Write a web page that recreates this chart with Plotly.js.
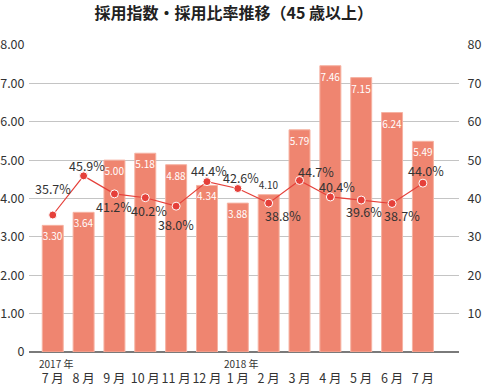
<!DOCTYPE html>
<html><head><meta charset="utf-8">
<script src="https://cdn.plot.ly/plotly-3.0.1.min.js"></script>
<style>html,body{margin:0;padding:0;background:#fff}#chart{width:482px;height:387px}</style>
</head><body><div id="chart"></div>
<script>
var months = ['7 月','8 月','9 月','10 月','11 月','12 月','1 月','2 月','3 月','4 月','5 月','6 月','7 月'];
var yearLabels = ['2017 年','2018 年'];
var yearIndex = [0, 6];
var hiringIndex = [3.30, 3.64, 5.00, 5.18, 4.88, 4.34, 3.88, 4.10, 5.79, 7.46, 7.15, 6.24, 5.49];
var hiringRatio = [35.7, 45.9, 41.2, 40.2, 38.0, 44.4, 42.6, 38.8, 44.7, 40.4, 39.6, 38.7, 44.0];
var leftTicks = [0,1,2,3,4,5,6,7,8];
var rightTicks = [10,20,30,40,50,60,70,80];

// label placement offsets (px)
var pctShift = [[0,-27],[3,-10],[0,13],[4,13],[0,18],[2,-11],[3,-11],[14,12],[16,-9],[7,-10],[3,11],[10,12],[3,-13]];

var idx = months.map(function(_, i){return i;});
var font = '"Noto Sans CJK JP", "Noto Sans", sans-serif';

var barPos = hiringIndex.map(function(v,i){ return i===7 ? 'outside' : 'inside'; });

var traces = [
  {type:'bar', x: idx, y: hiringIndex, yaxis:'y',
   marker:{color:'#ef8570', line:{color:'#f6b2a2', width:1}},
   width: 0.68,
   text: hiringIndex.map(function(v){return v.toFixed(2);}),
   textposition: barPos, insidetextanchor:'end', constraintext:'none', cliponaxis:false, textangle:0,
   insidetextfont:{family:font, size:10, color:'#ffffff'},
   outsidetextfont:{family:font, size:10, color:'#333333'},
   hoverinfo:'skip'},
  {type:'scatter', mode:'lines+markers', x: idx, y: hiringRatio, yaxis:'y2',
   line:{color:'#e5403a', width:1.2},
   marker:{color:'#e5403a', size:8, line:{color:'#ffffff', width:1}},
   hoverinfo:'skip'}
];

var annotations = hiringRatio.map(function(v,i){
  return {x:i, y:v, xref:'x', yref:'y2', text: v.toFixed(1)+'%', showarrow:false,
    xshift: pctShift[i][0], yshift: -pctShift[i][1],
    font:{family:font, size:12.5, color:'#333333'}};
});
yearLabels.forEach(function(t,k){
  annotations.push({x: yearIndex[k], y:0, xref:'x', yref:'paper', text:t, showarrow:false,
    yanchor:'middle', yshift:-11, xshift:3, font:{family:font, size:10, color:'#333333'}});
});

var layout = {
  width:482, height:387,
  margin:{l:29, r:23, t:45, b:35, autoexpand:false},
  paper_bgcolor:'#ffffff', plot_bgcolor:'#ffffff',
  showlegend:false,
  title:{text:'<b>採用指数・採用比率推移（45 歳以上）</b>', x:0.485, xanchor:'center', y:0.966, yanchor:'middle',
    font:{family:font, size:16, color:'#222222'}},
  xaxis:{range:[-0.77, 13.17], tickmode:'array', tickvals: idx, ticktext: months, tickangle:0, automargin:false,
    ticks:'outside', ticklen:15, tickcolor:'rgba(0,0,0,0)', showgrid:false, zeroline:false,
    showline:false, tickfont:{family:font, size:12.5, color:'#333333'}, fixedrange:true},
  yaxis:{range:[0,8], tickmode:'array', tickvals:leftTicks, automargin:false,
    ticktext: leftTicks.map(function(v){return v===0?'0':v.toFixed(2);}),
    showgrid:true, gridcolor:'#c4c4c4', gridwidth:1, zeroline:true, zerolinecolor:'#7a7a7a', zerolinewidth:1.5,
    ticks:'outside', ticklen:1, tickcolor:'rgba(0,0,0,0)',
    tickfont:{family:font, size:12.5, color:'#333333'}, fixedrange:true},
  yaxis2:{range:[0,80], overlaying:'y', side:'right', tickmode:'array', tickvals:rightTicks, automargin:false,
    showgrid:false, zeroline:false, ticks:'outside', ticklen:5, tickcolor:'rgba(0,0,0,0)',
    tickfont:{family:font, size:12.5, color:'#333333'}, fixedrange:true},
  annotations: annotations,
  bargap:0.32
};

Plotly.newPlot('chart', traces, layout, {displayModeBar:false, staticPlot:true});
</script>
</body></html>
